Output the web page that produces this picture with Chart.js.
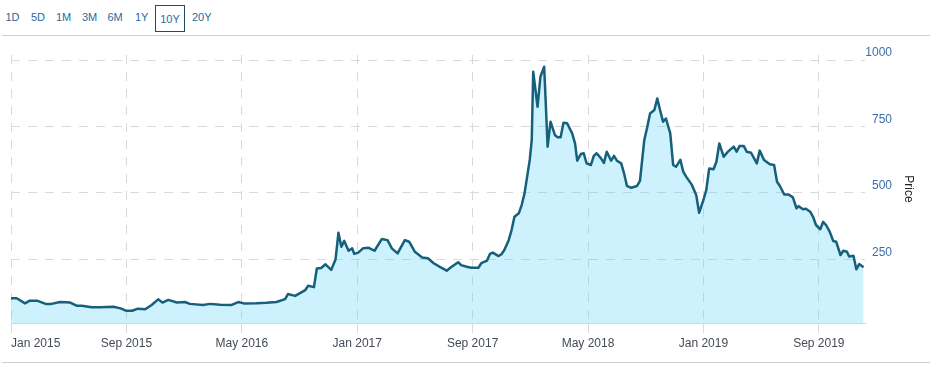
<!DOCTYPE html>
<html>
<head>
<meta charset="utf-8">
<script src="https://cdn.jsdelivr.net/npm/chart.js@4.4.1/dist/chart.umd.min.js"></script>
<style>
  body { margin: 0; background: #fff; font-family: "Liberation Sans", Arial, sans-serif; }
  #page { position: relative; width: 930px; height: 367px; overflow: hidden; }
  .btn { position: absolute; top: 10px; font-size: 11px; color: #2b6a9b; line-height: 14px; }
  .btn.on { top: 5px; left: 155px; width: 28px; height: 25px; border: 1px solid #1f4d66; text-align: center; line-height: 27px; }
  .rule { position: absolute; left: 2px; right: 0; height: 1px; background: #cfcfcf; }
  #wrap { position: absolute; left: 0; top: 36px; width: 930px; height: 326px; }
</style>
</head>
<body>
<div id="page">
  <span class="btn" style="left:5.5px">1D</span>
  <span class="btn" style="left:31px">5D</span>
  <span class="btn" style="left:56px">1M</span>
  <span class="btn" style="left:82px">3M</span>
  <span class="btn" style="left:107.5px">6M</span>
  <span class="btn" style="left:135px">1Y</span>
  <span class="btn on">10Y</span>
  <span class="btn" style="left:192px">20Y</span>
  <div class="rule" style="top:35px"></div>
  <div id="wrap"><canvas id="priceChart" width="930" height="326"></canvas></div>
  <div class="rule" style="top:362px"></div>
</div>
<script>
// months since Jan 2015
const months = [
  0.0, 0.4, 0.97, 1.3, 1.8, 2.4, 2.8, 3.4, 4.1, 4.55, 4.9, 5.6, 6.2, 7.1, 7.6, 8.0, 8.4, 8.8, 9.3, 9.75,
  10.2, 10.5, 10.9, 11.5, 12.06, 12.4, 13.3, 13.8, 14.5, 15.3, 15.75, 16.2, 17.0, 17.7, 18.4, 19.0, 19.2, 19.7,
  20.4, 20.6, 21.0, 21.2, 21.5, 21.8, 22.2, 22.5, 22.7, 22.9, 23.1, 23.4, 23.65, 23.8, 24.07, 24.4, 24.8,
  25.2, 25.7, 26.1, 26.4, 26.8, 27.3, 27.6, 28.0, 28.5, 28.9, 29.3, 29.7, 30.2, 30.5, 31.0, 31.2, 31.6,
  31.9, 32.4, 32.6, 33.0, 33.2, 33.4, 33.8, 34.0, 34.2, 34.5, 34.7, 34.9, 35.2, 35.4, 35.6, 35.96, 36.1,
  36.2, 36.5, 36.7, 36.96, 37.2, 37.4, 37.7, 37.9, 38.1, 38.3, 38.55, 38.9, 39.1, 39.25, 39.5, 39.7, 39.9,
  40.2, 40.4, 40.6, 40.9, 41.1, 41.3, 41.6, 41.8, 42.0, 42.3, 42.5, 42.7, 43.0, 43.4, 43.6, 43.9, 44.1,
  44.3, 44.6, 44.8, 45.0, 45.2, 45.4, 45.7, 45.9, 46.1, 46.4, 46.6, 46.8, 47.2, 47.5, 47.7, 48.0, 48.2,
  48.4, 48.7, 48.9, 49.1, 49.4, 49.7, 50.1, 50.3, 50.5, 50.8, 51.0, 51.3, 51.7, 51.9, 52.2, 52.6, 52.9,
  53.1, 53.3, 53.6, 53.9, 54.2, 54.45, 54.6, 54.9, 55.1, 55.4, 55.6, 55.8, 56.1, 56.3, 56.5, 56.75, 57.0,
  57.2, 57.5, 57.7, 57.95, 58.1, 58.4, 58.6, 58.8, 59.1
];
const prices = [
  103, 103, 84, 94, 94, 82, 82, 89, 87, 75, 75, 69, 69, 71, 65, 56, 56, 64, 62, 78,
  99, 87, 97, 87, 89, 82, 78, 82, 79, 78, 89, 83, 84, 86, 89, 100, 119, 112,
  134, 150, 145, 215, 217, 231, 210, 250, 350, 297, 319, 282, 291, 270, 275, 291, 293,
  282, 326, 322, 291, 272, 322, 316, 278, 257, 254, 235, 222, 207, 220, 239, 228, 222,
  218, 218, 235, 245, 270, 275, 262, 269, 285, 322, 360, 410, 423, 454, 498, 624, 699,
  956, 824, 937, 975, 674, 768, 718, 709, 709, 764, 762, 724, 686, 621, 646, 649, 611,
  605, 639, 649, 630, 613, 655, 621, 639, 621, 611, 573, 526, 519, 526, 545, 699, 746,
  799, 812, 855, 810, 768, 780, 724, 605, 598, 624, 580, 561, 530, 492, 425, 473, 511,
  592, 589, 617, 686, 636, 655, 674, 655, 676, 676, 655, 651, 611, 659, 624, 608, 605,
  542, 526, 494, 494, 483, 442, 450, 438, 440, 429, 410, 379, 363, 391, 379, 354, 319,
  316, 266, 282, 278, 260, 263, 212, 232, 220
];
const xTicks = [0, 8, 16, 24, 32, 40, 48, 56, 59.2];
const xLabels = ["Jan 2015", "Sep 2015", "May 2016", "Jan 2017", "Sep 2017", "May 2018", "Jan 2019", "Sep 2019", ""];
const yTicks = [250, 500, 750, 1000];

const gridColor = "#d9d9d9";
const xGrid = c => (c.tick && c.tick.value > 58 ? "rgba(0,0,0,0)" : gridColor);

Chart.defaults.font.family = '"Liberation Sans", Arial, sans-serif';

new Chart(document.getElementById("priceChart"), {
  type: "line",
  data: {
    datasets: [{
      data: months.map((m, i) => ({ x: m, y: prices[i] })),
      borderColor: "#16607b",
      borderWidth: 2.5,
      backgroundColor: "rgba(100,210,250,0.32)",
      fill: "start",
      pointRadius: 0,
      tension: 0,
      borderJoinStyle: "round"
    }]
  },
  options: {
    responsive: false,
    animation: false,
    devicePixelRatio: 1,
    // right padding: the price labels end at x=892, the title sits beyond them
    layout: { padding: { left: 11, top: 19, right: 38, bottom: 0 } },
    plugins: { legend: { display: false }, tooltip: { enabled: false } },
    scales: {
      x: {
        type: "linear",
        min: 0,
        max: 59.2,
        afterBuildTicks: s => { s.ticks = xTicks.map(v => ({ value: v })); },
        afterFit: s => { s.height = 39; },
        ticks: {
          autoSkip: false,
          maxRotation: 0,
          align: "inner",
          padding: 3,
          color: "#444b55",
          font: { size: 12 },
          callback: (v, i) => xLabels[i]
        },
        grid: { color: xGrid, tickColor: xGrid, tickLength: 10 },
        border: { color: "#ccd6eb", width: 1, dash: [9, 8] }
      },
      y: {
        position: "right",
        min: 10,
        max: 1019,
        afterBuildTicks: s => { s.ticks = yTicks.map(v => ({ value: v })); },
        afterFit: s => { s.width = 27; },
        ticks: {
          crossAlign: "far",
          padding: 0,
          labelOffset: -7,
          color: "#3a6ea8",
          font: { size: 12 },
          callback: v => String(v)
        },
        grid: { color: gridColor, drawTicks: false },
        border: { display: false, dash: [9, 8] },
        title: {
          display: true,
          text: "Price",
          color: "#222",
          font: { size: 12 },
          padding: { top: -24 }
        }
      }
    }
  }
});
</script>
</body>
</html>
